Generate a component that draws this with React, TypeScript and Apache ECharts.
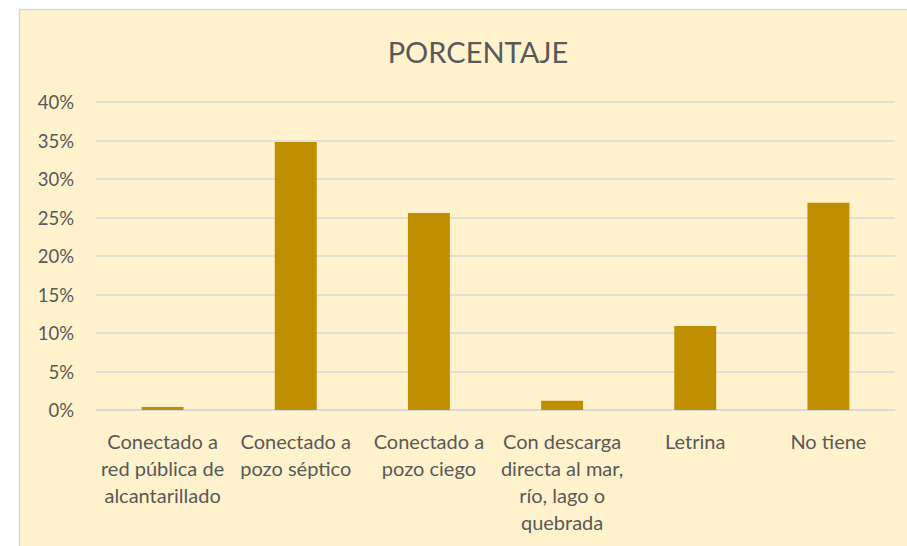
import React, { useEffect, useRef } from "react";
import * as echarts from "echarts";

const categories = [
  "Conectado a\nred pública de\nalcantarillado",
  "Conectado a\npozo séptico",
  "Conectado a\npozo ciego",
  "Con descarga\ndirecta al mar,\nrío, lago o\nquebrada",
  "Letrina",
  "No tiene",
];
const values = [0.4, 34.8, 25.6, 1.2, 10.9, 26.9];
const yTicks = [0, 5, 10, 15, 20, 25, 30, 35, 40];

const FONT = "Lato, 'Open Sans', sans-serif";

export default function App() {
  const ref = useRef<HTMLDivElement>(null);
  useEffect(() => {
    if (!ref.current) return;
    const chart = echarts.init(ref.current, undefined, { renderer: "svg" });
    chart.setOption({
      animation: false,
      backgroundColor: "#ffffff",
      graphic: [
        {
          type: "rect",
          z: -10,
          silent: true,
          shape: { x: 19.5, y: 9.5, width: 900, height: 560 },
          style: { fill: "#FFF2CC", stroke: "#D9D9D9", lineWidth: 1.5 },
        },
      ],
      title: {
        text: "PORCENTAJE",
        left: 473,
        textAlign: "center",
        top: 32,
        textStyle: { fontFamily: FONT, fontSize: 29, fontWeight: "normal", color: "#595959" },
      },
      grid: { left: 96, right: 12, top: 102, bottom: 136 },
      xAxis: {
        type: "category",
        data: categories,
        axisLine: { lineStyle: { color: "#D9D9D9", width: 1.5 } },
        axisTick: { show: false },
        axisLabel: {
          interval: 0,
          fontFamily: FONT,
          fontSize: 20,
          lineHeight: 27,
          color: "#595959",
          margin: 17,
        },
      },
      yAxis: {
        type: "value",
        min: yTicks[0],
        max: yTicks[yTicks.length - 1],
        interval: 5,
        axisLine: { show: false },
        axisTick: { show: false },
        splitLine: { lineStyle: { color: "#D9D9D9", width: 1.5 } },
        axisLabel: {
          formatter: (v: number) => v + "%",
          fontFamily: FONT,
          fontSize: 18.5,
          color: "#595959",
          margin: 22,
        },
      },
      series: [
        {
          type: "bar",
          data: values,
          barWidth: "31.5%",
          itemStyle: { color: "#BF8F00" },
        },
      ],
    });
    return () => chart.dispose();
  }, []);
  return (
    <div
      ref={ref}
      style={{ position: "fixed", left: 0, top: 0, width: 907, height: 546 }}
    />
  );
}
